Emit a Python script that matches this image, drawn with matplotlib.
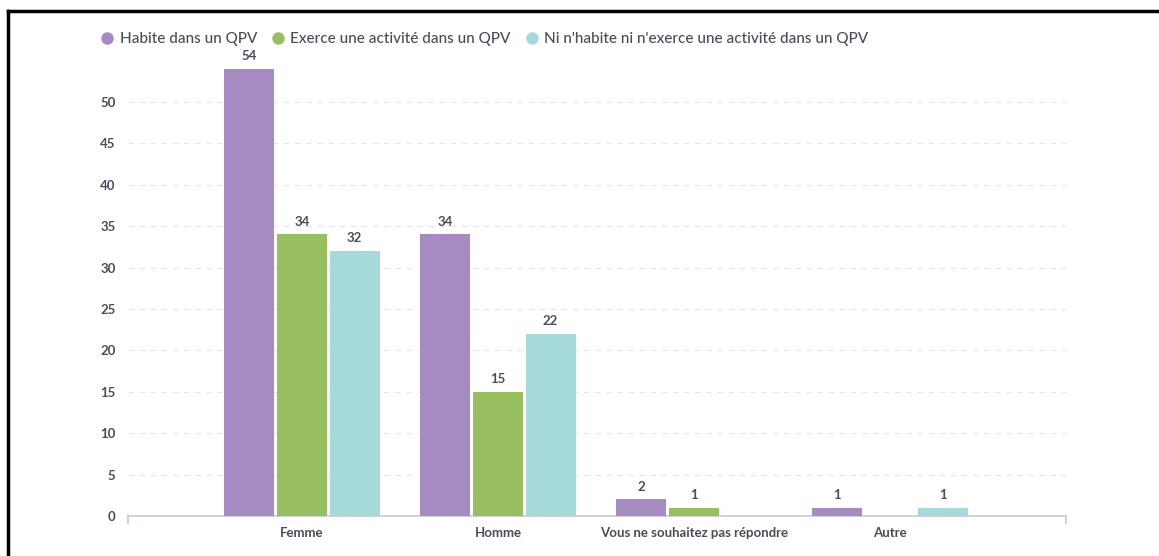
import numpy as np
import matplotlib.pyplot as plt
from matplotlib.lines import Line2D

categories = ["Femme", "Homme", "Vous ne souhaitez pas répondre", "Autre"]
series_names = ["Habite dans un QPV", "Exerce une activité dans un QPV",
                "Ni n'habite ni n'exerce une activité dans un QPV"]
habite = [54, 34, 2, 1]
exerce = [34, 15, 1, 0]
ni = [32, 22, 0, 1]
colors = ["#a58bc2", "#97bf5f", "#a6d9d9"]
text_col = "#4b4b5e"

plt.rcParams['font.family'] = ['Lato', 'DejaVu Sans']

fig = plt.figure(figsize=(11.59, 5.56), dpi=100)
ax = fig.add_axes([128 / 1159, 1 - 516 / 556, (1066 - 128) / 1159, 0.834])

x = np.arange(len(categories))
w = 0.255
step = 0.268
for i, vals in enumerate([habite, exerce, ni]):
    pos = x + (i - 1) * step
    for p, v in zip(pos, vals):
        if v == 0:
            continue
        ax.bar(p, v, width=w, color=colors[i], zorder=3)
        ax.text(p, v + 0.8, str(v), ha='center', va='bottom', fontsize=9.5,
                fontweight='bold', color=text_col)

ax.set_xlim((128 - 302) / 196, (1066 - 302) / 196)
ax.set_ylim(0, 56)
ax.set_yticks(range(0, 55, 5))
ax.set_xticks(x)
ax.set_xticklabels(categories)
ax.tick_params(axis='x', length=0, pad=8, labelsize=9.5, labelcolor=text_col)
ax.tick_params(axis='y', length=0, pad=9, labelsize=9.5, labelcolor=text_col)
for lab in ax.get_xticklabels() + ax.get_yticklabels():
    lab.set_fontweight('bold')

for yv in range(5, 55, 5):
    ax.axhline(yv, color='#e6e6ea', lw=0.8, ls=(0, (5, 5)), zorder=1)

for s in ['top', 'right', 'left']:
    ax.spines[s].set_visible(False)
ax.spines['bottom'].set_color('#c5c9d3')
ax.spines['bottom'].set_linewidth(1.2)
# small end ticks on the x axis
for xe in ax.get_xlim():
    ax.plot([xe, xe], [0, -0.8], color='#c5c9d3', lw=1.2, clip_on=False)

handles = [Line2D([0], [0], marker='o', color='w', markerfacecolor=c,
                  markersize=10, lw=0) for c in colors]
leg = fig.legend(handles, series_names, loc='upper left',
                 bbox_to_anchor=(92 / 1159, 1 - 26 / 556), ncol=3, frameon=False,
                 fontsize=11, handletextpad=0.2, columnspacing=0.8,
                 handlelength=1.2, borderaxespad=0,
                 prop={'weight': 'medium', 'size': 11})
for t in leg.get_texts():
    t.set_color(text_col)

# frame of the screenshot
fig.add_artist(Line2D([8 / 1159, 8 / 1159], [0, 1 - 11 / 556], color='black', lw=2.5))
fig.add_artist(Line2D([8 / 1159, 1], [1 - 11 / 556, 1 - 11 / 556], color='black', lw=2.5))

fig.savefig("out.png", dpi=100)
